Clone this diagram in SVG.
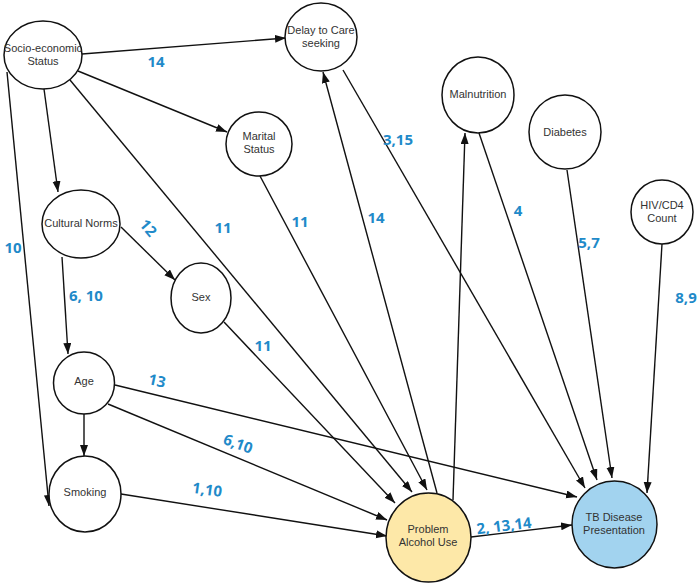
<svg xmlns="http://www.w3.org/2000/svg" width="700" height="585" viewBox="0 0 700 585">
<style>
.n{fill:#fff;stroke:#111;stroke-width:1.5}
.t{font-family:"Liberation Sans",Arial,sans-serif;font-size:11px;fill:#333;text-anchor:middle}
.e{stroke:#111;stroke-width:1.4;fill:none;marker-end:url(#ah)}
.l{font-family:"Open Sans","Liberation Sans",sans-serif;font-size:15px;font-weight:bold;fill:#1f8ac9;text-anchor:middle}
</style>
<defs>
<marker id="ah" markerWidth="12" markerHeight="10" refX="11" refY="4" orient="auto" markerUnits="userSpaceOnUse">
<path d="M0,0 L11,4 L0,8 Z" fill="#111"/>
</marker>
</defs>
<rect width="700" height="585" fill="#fff"/>
<g id="connectors">
<line class="e" x1="82" y1="54" x2="286" y2="38"/>
<line class="e" x1="78" y1="71" x2="227" y2="132"/>
<line class="e" x1="44" y1="89" x2="58" y2="192"/>
<line class="e" x1="7" y1="72" x2="49" y2="506"/>
<line class="e" x1="70" y1="80" x2="412" y2="492"/>
<line class="e" x1="260" y1="176" x2="427" y2="490"/>
<line class="e" x1="121" y1="227" x2="175" y2="280"/>
<line class="e" x1="62" y1="257" x2="68" y2="354"/>
<line class="e" x1="224" y1="322" x2="395" y2="503"/>
<line class="e" x1="84" y1="414" x2="84" y2="456"/>
<line class="e" x1="115" y1="385" x2="577" y2="497"/>
<line class="e" x1="108" y1="404" x2="387" y2="520"/>
<line class="e" x1="121" y1="494" x2="387" y2="536"/>
<line class="e" x1="437" y1="493" x2="323" y2="72"/>
<line class="e" x1="453" y1="500" x2="465" y2="133"/>
<line class="e" x1="343" y1="70" x2="585" y2="488"/>
<line class="e" x1="479" y1="133" x2="597" y2="480"/>
<line class="e" x1="567" y1="170" x2="612" y2="478"/>
<line class="e" x1="662" y1="244" x2="647" y2="493"/>
<line class="e" x1="471" y1="537" x2="572" y2="525"/>
</g>
<g id="labels">
<text class="l" x="156" y="67">14</text>
<text class="l" x="398" y="145">3,15</text>
<text class="l" x="518" y="216">4</text>
<text class="l" x="589" y="248">5,7</text>
<text class="l" x="686" y="303">8,9</text>
<text class="l" x="376" y="223">14</text>
<text class="l" x="13" y="253">10</text>
<text class="l" transform="translate(148,228) rotate(50)" x="0" y="5">12</text>
<text class="l" x="223" y="233">11</text>
<text class="l" x="300" y="227">11</text>
<text class="l" x="86" y="301">6, 10</text>
<text class="l" x="263" y="351">11</text>
<text class="l" transform="translate(157,381) rotate(12)" x="0" y="5">13</text>
<text class="l" transform="translate(238,444) rotate(20)" x="0" y="5">6,10</text>
<text class="l" transform="translate(207,490) rotate(8)" x="0" y="5">1,10</text>
<text class="l" transform="translate(504,526) rotate(-7)" x="0" y="5">2, 13,14</text>
</g>
<g id="ses"><ellipse class="n" cx="43" cy="55" rx="39" ry="34"/><text class="t" x="43" y="52">Socio-economic</text><text class="t" x="43" y="65">Status</text></g>
<g id="delay"><ellipse class="n" cx="321" cy="37" rx="36" ry="34"/><text class="t" x="321" y="34">Delay to Care</text><text class="t" x="321" y="47">seeking</text></g>
<g id="marital"><ellipse class="n" cx="259" cy="144" rx="33" ry="32"/><text class="t" x="259" y="140">Marital</text><text class="t" x="259" y="153">Status</text></g>
<g id="malnutrition"><ellipse class="n" cx="478" cy="95" rx="36" ry="38"/><text class="t" x="478" y="98">Malnutrition</text></g>
<g id="diabetes"><ellipse class="n" cx="565" cy="132" rx="36" ry="37"/><text class="t" x="565" y="136">Diabetes</text></g>
<g id="hiv"><ellipse class="n" cx="662" cy="212" rx="31" ry="32"/><text class="t" x="662" y="209">HIV/CD4</text><text class="t" x="662" y="222">Count</text></g>
<g id="cultural"><ellipse class="n" cx="81" cy="224" rx="39" ry="34"/><text class="t" x="81" y="227">Cultural Norms</text></g>
<g id="sex"><ellipse class="n" cx="201" cy="298" rx="30" ry="35"/><text class="t" x="201" y="301">Sex</text></g>
<g id="age"><ellipse class="n" cx="84" cy="383" rx="30.5" ry="31"/><text class="t" x="84" y="385">Age</text></g>
<g id="smoking"><ellipse class="n" cx="85" cy="494" rx="36" ry="38"/><text class="t" x="85" y="496">Smoking</text></g>
<g id="alcohol"><ellipse class="n" cx="428.5" cy="537.5" rx="42.5" ry="44.5" style="fill:#fde8a8"/><text class="t" x="428" y="533">Problem</text><text class="t" x="428" y="546">Alcohol Use</text></g>
<g id="tb"><ellipse class="n" cx="614.5" cy="524.5" rx="42.5" ry="43.5" style="fill:#a2d3ef"/><text class="t" x="614" y="521">TB Disease</text><text class="t" x="614" y="534">Presentation</text></g>
</svg>
